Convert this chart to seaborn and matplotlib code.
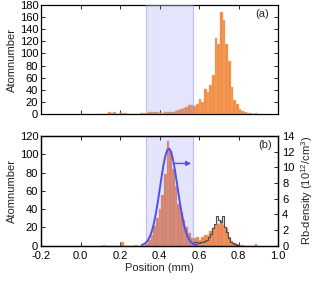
import numpy as np
import pandas as pd
import matplotlib
matplotlib.use("Agg")
import matplotlib.pyplot as plt
import seaborn as sns

# ---------------- data ----------------
bin_width = 0.0135
first_edge = 0.0995
# counts per bin, bin k spans first_edge + k*bin_width
top_counts = [0, 0, 0, 3, 2, 3, 0, 1, 2, 1, 0, 0, 0, 0, 0, 1, 2, 2, 3, 4,
              4, 3, 2, 2, 3, 4, 3, 4, 5, 6, 9, 10, 12, 15, 15, 14, 16, 24, 20, 41,
              36, 48, 64, 125, 115, 168, 155, 115, 87, 45, 23, 16, 9, 5, 3, 2, 1, 0, 1]
bottom_counts = [0, 1, 0, 0, 0, 0, 0, 0, 4, 0, 0, 0, 0, 1, 0, 0, 0, 2, 6, 12,
                 22, 30, 40, 56, 78, 114, 104, 84, 65, 46, 37, 28, 21, 14, 8, 8, 9, 6, 9, 12,
                 12, 16, 19, 23, 24, 28, 23, 19, 10, 5, 3, 2, 1, 1, 0, 0, 0, 0, 2]
# outlined comparison histogram (finer bins)
outline_width = 0.01
outline_first_edge = 0.575
outline_counts = [4, 4, 3, 4, 4, 5, 6, 10, 13, 19, 24, 33, 28, 26, 32, 21, 15, 8, 4, 3, 2, 1, 1]
# Rb-density fit curve (10^12/cm^3) read along the position axis
curve_x = [0.31, 0.32, 0.33, 0.34, 0.35, 0.36, 0.37, 0.38, 0.39, 0.40, 0.41, 0.42, 0.43, 0.44,
           0.45, 0.46, 0.47, 0.48, 0.49, 0.50, 0.51, 0.52, 0.53, 0.54, 0.55, 0.56, 0.57, 0.58, 0.59]
curve_y = [0.10, 0.19, 0.36, 0.64, 1.09, 1.76, 2.68, 3.89, 5.36, 7.01, 8.71, 10.27, 11.51, 12.24,
           12.37, 11.87, 10.82, 9.36, 7.69, 6.00, 4.45, 3.13, 2.09, 1.33, 0.80, 0.46, 0.25, 0.13, 0.06]
region = (0.332, 0.571)
x_ticks = [-0.2, 0.0, 0.2, 0.4, 0.6, 0.8, 1.0]
top_yticks = list(range(0, 181, 20))
bot_yticks = list(range(0, 121, 20))
right_yticks = list(range(0, 15, 2))

# ---------------- style ----------------
sns.set_theme(style="white")
plt.rcParams["font.family"] = ["Liberation Sans", "DejaVu Sans"]
plt.rcParams["axes.unicode_minus"] = False
plt.rcParams["mathtext.fontset"] = "custom"
plt.rcParams["mathtext.rm"] = "Liberation Sans"
fs = 8

orange_top = "#F08A3C"
orange_bot = "#E8834A"
blue = "#5050F0"
span_face = (0.47, 0.47, 0.94, 0.2)
span_edge = (0.55, 0.55, 0.95, 0.5)

fig = plt.figure(figsize=(3.16, 2.81), dpi=100)
ax_top = fig.add_axes([41 / 316, 1 - 114 / 281, 237 / 316, 109 / 281])
ax_bot = fig.add_axes([41 / 316, 1 - 245.7 / 281, 237 / 316, 109.7 / 281])

edges = (first_edge + bin_width * np.arange(len(top_counts) + 1)).tolist()
centers = [(a + b) / 2 for a, b in zip(edges[:-1], edges[1:])]
df_top = pd.DataFrame({"pos": centers, "n": top_counts})
df_bot = pd.DataFrame({"pos": centers, "n": bottom_counts})
o_edges = (outline_first_edge + outline_width * np.arange(len(outline_counts) + 1)).tolist()
o_centers = [(a + b) / 2 for a, b in zip(o_edges[:-1], o_edges[1:])]
df_out = pd.DataFrame({"pos": o_centers, "n": outline_counts})

# top panel
sns.histplot(data=df_top, x="pos", weights="n", bins=edges, ax=ax_top,
             color=orange_top, alpha=1, edgecolor="#F7B98C", linewidth=0.3)
ax_top.axvspan(*region, facecolor=span_face, edgecolor=span_edge, linewidth=0.8, zorder=3)

# bottom panel: outlined histogram fill behind, orange bars, outline on top
sns.histplot(data=df_out, x="pos", weights="n", bins=o_edges, ax=ax_bot, element="step",
             fill=True, color="#E6E6F6", alpha=1, linewidth=0, zorder=1)
sns.histplot(data=df_bot, x="pos", weights="n", bins=edges, ax=ax_bot,
             color=orange_bot, alpha=1, edgecolor="#F2B08C", linewidth=0.3, zorder=2)
sns.histplot(data=df_out, x="pos", weights="n", bins=o_edges, ax=ax_bot, element="step",
             fill=False, color="#4A4A5A", linewidth=0.8, zorder=2.5)
ax_bot.axvspan(*region, facecolor=span_face, edgecolor=span_edge, linewidth=0.8, zorder=3)

ax_r = ax_bot.twinx()
sns.lineplot(x=curve_x, y=curve_y, ax=ax_r, color=blue, linewidth=1.4, sort=False)
ax_r.annotate("", xy=(0.56, 10.5), xytext=(0.475, 10.5),
              arrowprops=dict(arrowstyle="-|>", color=blue, lw=1.0,
                              mutation_scale=7, shrinkA=0, shrinkB=0))

for ax, yt, ymax in [(ax_top, top_yticks, 180), (ax_bot, bot_yticks, 120)]:
    ax.set_xlim(-0.2, 1.0)
    ax.set_ylim(0, ymax)
    ax.set_xticks(x_ticks)
    ax.set_yticks(yt)
    ax.set_ylabel("Atomnumber", fontsize=fs, labelpad=2)
    ax.tick_params(direction="in", length=3, width=0.6, labelsize=fs, pad=2,
                   top=True, right=(ax is ax_top), bottom=True, left=True, colors="black")
    for s in ax.spines.values():
        s.set_color("black")
        s.set_linewidth(0.9)

ax_top.set_xlabel("")
ax_top.tick_params(labelbottom=False)
ax_bot.set_xticklabels([f"{v:.1f}" for v in x_ticks])
ax_bot.tick_params(axis="x", pad=3.5)
ax_bot.set_xlabel("Position (mm)", fontsize=fs, labelpad=2)

ax_r.set_ylim(0, 14)
ax_r.set_yticks(right_yticks)
ax_r.tick_params(direction="in", length=3, width=0.6, labelsize=fs, pad=3, right=True, colors="black")
ax_r.set_ylabel("Rb-density (10$^{12}$/cm$^{3}$)", fontsize=fs, labelpad=3)
for s in ax_r.spines.values():
    s.set_color("black")
    s.set_linewidth(0.9)

ax_top.text(0.935, 0.915, "(a)", transform=ax_top.transAxes, fontsize=fs, ha="center", va="center")
ax_bot.text(0.945, 0.915, "(b)", transform=ax_bot.transAxes, fontsize=fs, ha="center", va="center")

fig.savefig("out.png", dpi=100)
